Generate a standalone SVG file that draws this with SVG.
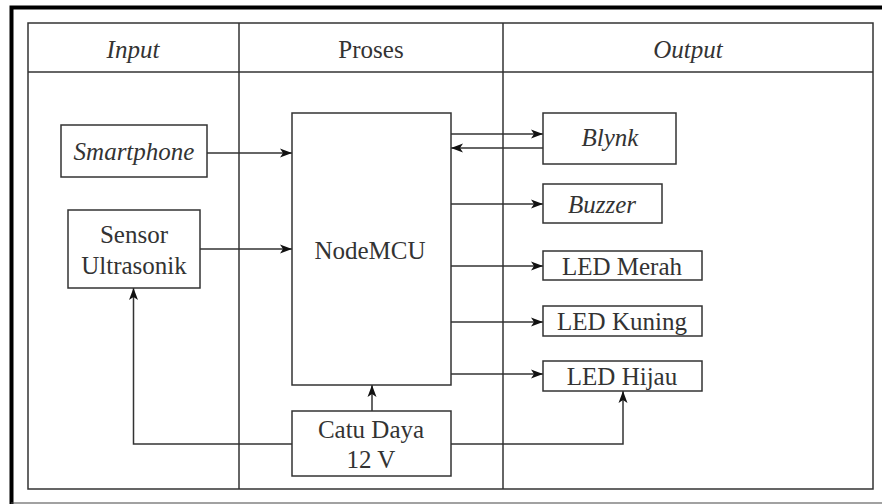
<svg xmlns="http://www.w3.org/2000/svg" width="882" height="504" viewBox="0 0 882 504">
<style>
.frame{fill:none;stroke:#333;stroke-width:1.5}
.box{fill:#fff;stroke:#333;stroke-width:1.5}
.i{font-style:italic}
.c{fill:none;stroke:#333;stroke-width:1.5}
</style>
<defs>
<marker id="ah" viewBox="0 0 12 10" refX="12" refY="5" markerWidth="12" markerHeight="10" markerUnits="userSpaceOnUse" orient="auto">
<path d="M0,0.5 L12,5 L0,9.5 L3,5 Z" fill="#111"/>
</marker>
</defs>
<rect width="882" height="504" fill="#fff"/>
<path d="M11.5,504 L11.5,7.5 L882,7.5" fill="none" stroke="#000" stroke-width="4"/>
<line x1="11" y1="503" x2="882" y2="503" stroke="#444" stroke-width="1.2"/>
<g font-family="Liberation Serif, serif" font-size="25" fill="#333" text-anchor="middle">
<g id="table">
<rect class="frame" x="28" y="23" width="845" height="466"/>
<line class="frame" x1="28" y1="72" x2="873" y2="72"/>
<line class="frame" x1="239" y1="23" x2="239" y2="489"/>
<line class="frame" x1="503" y1="23" x2="503" y2="489"/>
<text class="i" x="133" y="58">Input</text>
<text x="371" y="58">Proses</text>
<text class="i" x="688" y="58">Output</text>
</g>
<g id="connectors">
<path class="c" d="M207,153 H292" marker-end="url(#ah)"/>
<path class="c" d="M200,249 H292" marker-end="url(#ah)"/>
<path class="c" d="M451,134 H543" marker-end="url(#ah)"/>
<path class="c" d="M543,148 H451" marker-end="url(#ah)"/>
<path class="c" d="M451,204 H543" marker-end="url(#ah)"/>
<path class="c" d="M451,266 H543" marker-end="url(#ah)"/>
<path class="c" d="M451,322 H543" marker-end="url(#ah)"/>
<path class="c" d="M451,374 H543" marker-end="url(#ah)"/>
<path class="c" d="M372,411 V385" marker-end="url(#ah)"/>
<path class="c" d="M292,444 H133.5 V288" marker-end="url(#ah)"/>
<path class="c" d="M451,444 H623 V391" marker-end="url(#ah)"/>
</g>
<g id="smartphone">
<rect class="box" x="61" y="125" width="146" height="52"/>
<text class="i" x="134" y="160">Smartphone</text>
</g>
<g id="sensor">
<rect class="box" x="68" y="210" width="132" height="78"/>
<text x="134" y="243">Sensor</text>
<text x="134" y="274">Ultrasonik</text>
</g>
<g id="nodemcu">
<rect class="box" x="292" y="113" width="159" height="272"/>
<text x="370" y="259">NodeMCU</text>
</g>
<g id="catudaya">
<rect class="box" x="292" y="411" width="159" height="65"/>
<text x="371" y="438">Catu Daya</text>
<text x="371" y="468">12 V</text>
</g>
<g id="blynk">
<rect class="box" x="543" y="113" width="133" height="51"/>
<text class="i" x="610" y="146">Blynk</text>
</g>
<g id="buzzer">
<rect class="box" x="543" y="184" width="119" height="39"/>
<text class="i" x="602" y="213">Buzzer</text>
</g>
<g id="ledmerah">
<rect class="box" x="543" y="251" width="159" height="29"/>
<text x="622" y="275">LED Merah</text>
</g>
<g id="ledkuning">
<rect class="box" x="543" y="306" width="159" height="30"/>
<text x="622" y="330">LED Kuning</text>
</g>
<g id="ledhijau">
<rect class="box" x="543" y="361" width="159" height="30"/>
<text x="622" y="385">LED Hijau</text>
</g>
</g>
</svg>
